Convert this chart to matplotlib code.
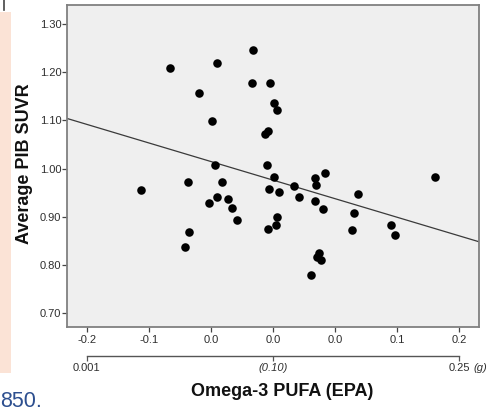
import numpy as np
import matplotlib
matplotlib.use("Agg")
import matplotlib.pyplot as plt
from matplotlib.patches import Rectangle
from matplotlib.lines import Line2D

plt.rcParams['font.family'] = ['Liberation Sans', 'DejaVu Sans']

# ---------------- data ----------------
epa_x = [-0.1062, -0.0829, -0.0450, -0.0164, -0.0168, -0.0593, -0.0488, -0.0025,
         0.0011, 0.0033, -0.0062, -0.0043, -0.0466, -0.0681, -0.0407, -0.0448,
         -0.0512, -0.0359, -0.0327, -0.0286, -0.0678, -0.0706, -0.0051, 0.0009,
         -0.0033, 0.0050, 0.0170, 0.0208, 0.0340, 0.0344, 0.0418, 0.0340,
         0.0403, 0.0031, 0.0027, -0.0041, 0.0689, 0.0656, 0.0635, 0.0952,
         0.0982, 0.1307, 0.0372, 0.0358, 0.0388, 0.0305]
pib_y = [0.955, 1.209, 1.219, 1.245, 1.177, 1.156, 1.098, 1.177,
         1.137, 1.122, 1.071, 1.078, 1.007, 0.971, 0.971, 0.941,
         0.929, 0.937, 0.919, 0.893, 0.868, 0.838, 1.007, 0.983,
         0.958, 0.952, 0.964, 0.940, 0.980, 0.966, 0.991, 0.933,
         0.916, 0.899, 0.883, 0.875, 0.948, 0.908, 0.872, 0.883,
         0.863, 0.983, 0.825, 0.817, 0.811, 0.779]

fit_intercept = 0.976
fit_slope = -0.771

x_tick_pos = [-0.15, -0.10, -0.05, 0.0, 0.05, 0.10, 0.15]
x_tick_labels = ['-0.2', '-0.1', '0.0', '0.0', '0.0', '0.1', '0.2']
y_tick_pos = [0.70, 0.80, 0.90, 1.00, 1.10, 1.20, 1.30]
y_tick_labels = ['0.70', '0.80', '0.90', '1.00', '1.10', '1.20', '1.30']
sec_tick_pos = [-0.15, 0.0, 0.15]
sec_tick_labels = ['0.001', '(0.10)', '0.25']
sec_unit = '(g)'
x_title = 'Omega-3 PUFA (EPA)'
y_title = 'Average PIB SUVR'
corner_text = '850.'

xlim = (-0.1659, 0.1661)
ylim = (0.671, 1.3394)

# ---------------- figure ----------------
W, H = 496, 413
fig = plt.figure(figsize=(W / 100, H / 100), dpi=100)
fig.patch.set_facecolor('white')


def fx(px):
    return px / W


def fy(py):
    return 1 - py / H


# decorations from the page
fig.patches.append(Rectangle((fx(0), fy(373)), fx(11), (373 - 12) / H,
                             transform=fig.transFigure, facecolor='#fbe3d6',
                             edgecolor='none', zorder=0))
fig.add_artist(Line2D([fx(3.5), fx(3.5)], [fy(0), fy(10)], color='#444444',
                      lw=1.2, transform=fig.transFigure))
fig.text(fx(0.5), fy(407), corner_text, fontsize=15.5, color='#2d4f8f',
         ha='left', va='baseline')

ax = fig.add_axes([fx(67), fy(327), (479 - 67) / W, (327 - 5) / H])
ax.set_facecolor('#efefef')

ax.scatter(epa_x, pib_y, s=38, c='black', linewidths=0, zorder=3)
xs = np.array(xlim)
ax.plot(xs, fit_intercept + fit_slope * xs, color='#3a3a3a', lw=0.9, zorder=2)

ax.set_xlim(xlim)
ax.set_ylim(ylim)
ax.set_xticks(x_tick_pos, labels=x_tick_labels)
ax.set_yticks(y_tick_pos, labels=y_tick_labels)
ax.tick_params(axis='both', labelsize=8, labelcolor='#2e2e2e', color='#444444',
               length=3.5, width=0.9)
ax.tick_params(axis='y', pad=0.6)
ax.tick_params(axis='x', pad=2.3)
for s in ax.spines.values():
    s.set_color('#808080')
    s.set_linewidth(1.3)

# secondary scale under the axis
sec = ax.secondary_xaxis(-0.089)
sec.set_xticks(sec_tick_pos, labels=sec_tick_labels)
sec.spines['bottom'].set_bounds(sec_tick_pos[0], sec_tick_pos[-1])
sec.spines['bottom'].set_color('#555555')
sec.spines['bottom'].set_linewidth(1.0)
sec.tick_params(axis='x', labelsize=8, labelcolor='#2e2e2e', color='#555555',
                length=3.5, width=0.9, pad=2)
sec.get_xticklabels()[1].set_fontstyle('italic')
fig.text(fx(473), fy(368), sec_unit, fontsize=8, color='#2e2e2e',
         ha='left', va='center', style='italic')

fig.text(fx(282), fy(391), x_title, fontsize=13, fontweight='bold',
         ha='center', va='center', color='#111111')
fig.text(fx(25), fy(164), y_title, fontsize=13, fontweight='bold',
         ha='center', va='center', rotation=90, color='#111111')

fig.savefig('out.png', dpi=100)
